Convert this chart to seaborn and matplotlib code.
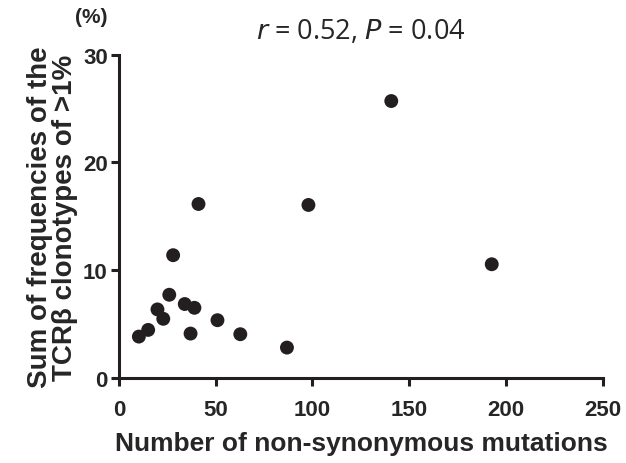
import matplotlib
matplotlib.use("Agg")
import numpy as np
import pandas as pd
import seaborn as sns
from matplotlib import pyplot as plt

# values
mutations = [10.3, 15.1, 19.9, 22.9, 26.0, 28.0, 34.0, 37.0, 39.0, 41.1, 50.9, 62.7, 86.8, 97.9, 140.7, 192.6]
frequency = [3.85, 4.47, 6.37, 5.50, 7.73, 11.4, 6.87, 4.13, 6.52, 16.15, 5.37, 4.07, 2.83, 16.06, 25.7, 10.56]
x_ticks = [0, 50, 100, 150, 200, 250]
y_ticks = [0, 10, 20, 30]

df = pd.DataFrame({"mutations": mutations, "frequency": frequency})

sns.set_style("ticks")
plt.rcParams["font.family"] = ["Liberation Sans", "DejaVu Sans"]

fig = plt.figure(figsize=(6.26, 4.64), dpi=100)
ax = fig.add_axes([0.190, 0.183, 0.773, 0.697])

sns.scatterplot(data=df, x="mutations", y="frequency", ax=ax, color="#231f20",
                s=100, edgecolor="none", clip_on=False, zorder=3)

ax.set_xlim(0, 250)
ax.set_ylim(0, 30)
ax.set_xticks(x_ticks)
ax.set_yticks(y_ticks)
for lbl in ax.get_xticklabels() + ax.get_yticklabels():
    lbl.set_fontweight("bold")
    lbl.set_fontsize(16)
ax.tick_params(axis="both", direction="out", length=6, width=2.2, color="#231f20", pad=2)
ax.tick_params(axis="x", pad=9)
for side in ["top", "right"]:
    ax.spines[side].set_visible(False)
for side in ["left", "bottom"]:
    ax.spines[side].set_linewidth(2.2)
    ax.spines[side].set_color("#231f20")

ax.set_xlabel("Number of non-synonymous mutations", fontsize=19, fontweight="bold", labelpad=8)
ax.set_ylabel("Sum of frequencies of the\nTCR\u03b2 clonotypes of >1%", fontsize=20,
              fontweight="bold", labelpad=4, linespacing=0.95)

ax.set_title(r"$\it{r}$ = 0.52, $\it{P}$ = 0.04", fontsize=19.5, pad=12,
             family=["Open Sans", "DejaVu Sans"])
fig.text(0.146, 0.962, "(%)", fontsize=15, fontweight="bold", ha="center", va="center")

fig.savefig("out.png", dpi=100)
